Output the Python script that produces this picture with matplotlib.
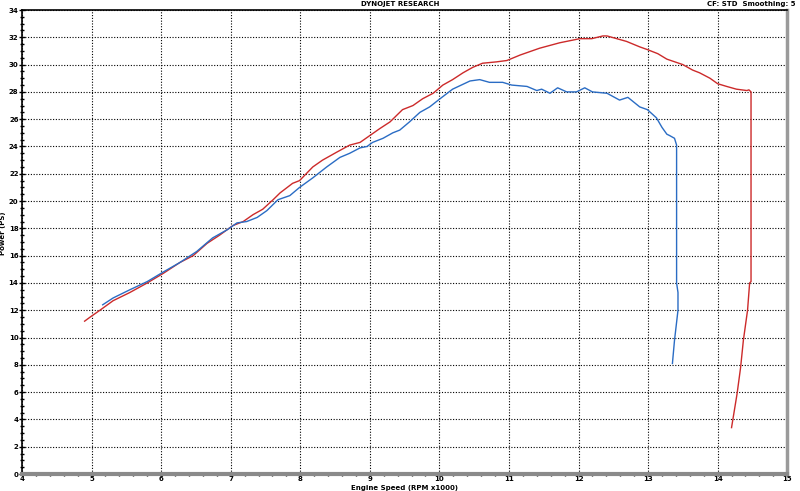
import matplotlib
matplotlib.use("Agg")
import matplotlib.pyplot as plt
from matplotlib.ticker import MultipleLocator

# run 1 (red)
red_rpm = [4.90, 4.98, 5.12, 5.31, 5.55, 5.80, 6.03, 6.27, 6.46, 6.66, 6.84, 7.03,
           7.18, 7.32, 7.46, 7.61, 7.71, 7.89, 7.99, 8.18, 8.32, 8.53, 8.71, 8.86,
           9.00, 9.14, 9.29, 9.47, 9.62, 9.76, 9.91, 10.05, 10.19, 10.34, 10.48,
           10.62, 10.82, 10.97, 11.16, 11.44, 11.73, 12.02, 12.19, 12.35, 12.41,
           12.55, 12.69, 12.88, 12.99, 13.14, 13.27, 13.50, 13.64, 13.74, 13.89,
           14.00, 14.13, 14.27, 14.42, 14.45, 14.48, 14.48, 14.46, 14.43, 14.37,
           14.33, 14.28, 14.20]
red_ps = [11.2, 11.5, 12.0, 12.7, 13.3, 14.0, 14.7, 15.5, 16.0, 16.9, 17.5, 18.2,
          18.5, 19.0, 19.4, 20.1, 20.6, 21.3, 21.5, 22.5, 23.0, 23.6, 24.1, 24.3,
          24.8, 25.3, 25.8, 26.7, 27.0, 27.5, 27.9, 28.5, 28.9, 29.4, 29.8,
          30.1, 30.2, 30.3, 30.7, 31.2, 31.6, 31.9, 31.9, 32.1, 32.1,
          31.9, 31.7, 31.3, 31.1, 30.8, 30.4, 30.0, 29.6, 29.4, 29.0,
          28.6, 28.4, 28.2, 28.1, 28.15, 28.0, 14.1, 14.0, 12.0, 9.8,
          7.8, 5.9, 3.4]

# run 2 (blue)
blue_rpm = [5.16, 5.31, 5.55, 5.80, 6.03, 6.27, 6.51, 6.74, 6.95, 7.09, 7.23, 7.38,
            7.52, 7.68, 7.85, 7.99, 8.18, 8.38, 8.57, 8.71, 8.86, 8.96, 9.04, 9.19,
            9.33, 9.43, 9.57, 9.72, 9.86, 10.01, 10.19, 10.44, 10.58, 10.72, 10.91,
            11.04, 11.26, 11.40, 11.47, 11.59, 11.70, 11.83, 11.97, 12.09, 12.20,
            12.41, 12.59, 12.71, 12.88, 12.99, 13.12, 13.20, 13.27, 13.31, 13.38,
            13.41, 13.41, 13.43, 13.43, 13.38, 13.35]
blue_ps = [12.4, 12.9, 13.5, 14.1, 14.8, 15.5, 16.3, 17.3, 17.9, 18.4, 18.5, 18.8,
           19.3, 20.1, 20.4, 21.0, 21.7, 22.5, 23.2, 23.5, 23.9, 24.0, 24.3, 24.6,
           25.0, 25.2, 25.8, 26.5, 26.9, 27.5, 28.2, 28.8, 28.9, 28.7, 28.7,
           28.5, 28.4, 28.1, 28.2, 27.9, 28.3, 28.0, 28.0, 28.3, 28.0,
           27.9, 27.4, 27.6, 26.9, 26.7, 26.1, 25.4, 24.9, 24.8, 24.6,
           24.1, 14.0, 13.3, 12.0, 9.8, 8.1]

fig = plt.figure(figsize=(8, 4.91), dpi=100)
ax = fig.add_axes([0.0275, 0.0346, 0.9565, 0.945])

ax.plot(red_rpm, red_ps, color="#cc2a2a", lw=1.0)
ax.plot(blue_rpm, blue_ps, color="#2a6cc4", lw=1.0)

ax.set_xlim(4, 15)
ax.set_ylim(0, 34)
ax.xaxis.set_major_locator(MultipleLocator(1))
ax.xaxis.set_minor_locator(MultipleLocator(0.2))
ax.yaxis.set_major_locator(MultipleLocator(2))
ax.yaxis.set_minor_locator(MultipleLocator(0.5))
ax.grid(True, which="major", color="black", linestyle=(0, (1, 1.5)), lw=0.8)

ax.tick_params(which="both", direction="inout", labelsize=5, width=1)
ax.tick_params(which="major", length=4)
ax.tick_params(which="minor", length=3)
ax.tick_params(axis="x", which="both", length=2.5, pad=0)
ax.tick_params(axis="y", pad=0.5)
for lab in ax.get_xticklabels() + ax.get_yticklabels():
    lab.set_fontweight("bold")

ax.spines["top"].set_linewidth(1.2)
ax.spines["left"].set_linewidth(1.2)
ax.spines["bottom"].set_color("#8a8a8a")
ax.spines["bottom"].set_linewidth(3)
ax.spines["right"].set_color("#9a9a9a")
ax.spines["right"].set_linewidth(2.5)

fig.text(0.506, 0.001, "Engine Speed (RPM x1000)", ha="center", va="bottom",
         fontsize=5, fontweight="bold")
fig.text(0.0, 0.525, "Power (PS)", ha="left", va="center", rotation=90,
         fontsize=5, fontweight="bold")

fig.text(0.5, 0.992, "DYNOJET RESEARCH", ha="center", va="center",
         fontsize=5, fontweight="bold")
fig.text(0.994, 0.992, "CF: STD  Smoothing: 5", ha="right", va="center",
         fontsize=5, fontweight="bold")

fig.savefig("out.png", dpi=100)
